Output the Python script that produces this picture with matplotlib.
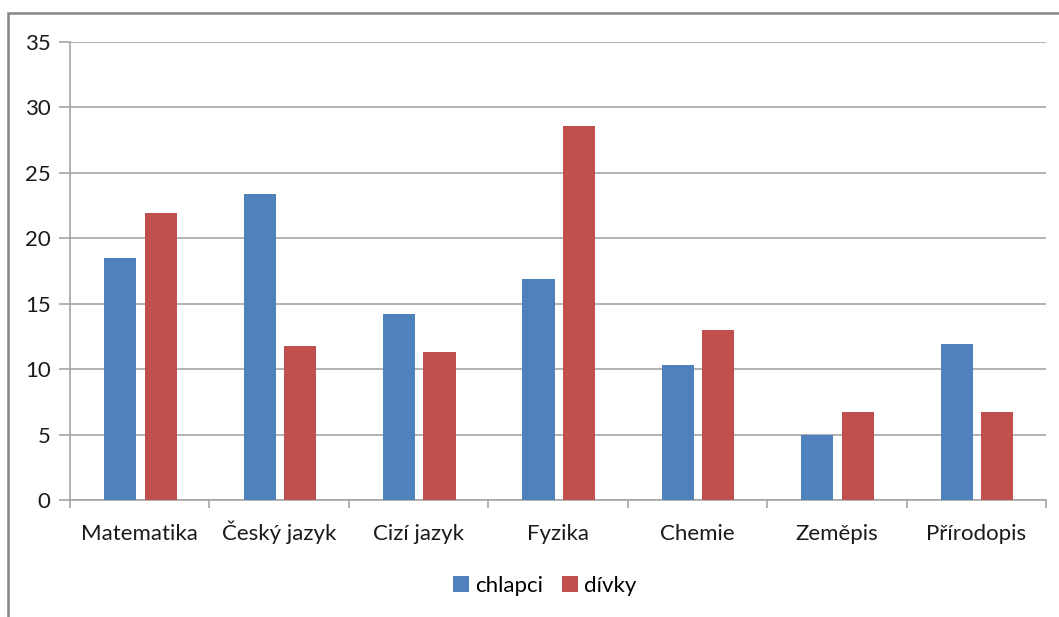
import matplotlib
matplotlib.use("Agg")
import matplotlib.pyplot as plt
import numpy as np
from matplotlib.patches import Rectangle
from matplotlib.transforms import blended_transform_factory

plt.rcParams['font.family'] = ['Lato', 'DejaVu Sans']

# data
predmety = ['Matematika', 'Český jazyk', 'Cizí jazyk', 'Fyzika', 'Chemie', 'Zeměpis', 'Přírodopis']
chlapci = [18.5, 23.4, 14.2, 16.9, 10.3, 5.0, 11.9]
divky = [21.9, 11.8, 11.3, 28.6, 13.0, 6.7, 6.7]

fig = plt.figure(figsize=(10.59, 6.17), dpi=100)
ax = fig.add_axes([70 / 1059, 117 / 617, 976 / 1059, 458 / 617])

# outer frame of the chart area
fig.patches.append(Rectangle((8 / 1059, -0.1), 1.2, (617 - 13) / 617 + 0.1,
                             transform=fig.transFigure, fill=False,
                             edgecolor='#868686', linewidth=1.8))

x = np.arange(len(predmety))
w = 0.23
ax.bar(x - 0.14, chlapci, w, color='#4f81bd', label='chlapci', zorder=3)
ax.bar(x + 0.15, divky, w, color='#c0504d', label='dívky', zorder=3)

ax.set_xlim(-0.5, len(predmety) - 0.5)
ax.set_ylim(0, 35)
ax.set_yticks(range(0, 36, 5))
ax.grid(axis='y', color='#a6a6a6', linewidth=1.2, zorder=0)

ax.set_xticks(np.arange(-0.5, len(predmety), 1))
ax.set_xticklabels([])
# category labels on a common baseline
tr = blended_transform_factory(ax.transData, fig.transFigure)
for xi, name in zip(x, predmety):
    ax.text(xi, 1 - 540 / 617, name, transform=tr, ha='center', va='baseline',
            fontsize=16, color='#1a1a1a')
ax.tick_params(axis='x', which='major', length=6, color='#a6a6a6', width=1.2)
ax.tick_params(axis='y', length=8, color='#a6a6a6', width=1.2, pad=6, labelsize=16,
               labelcolor='#1a1a1a')

for s in ['top', 'right']:
    ax.spines[s].set_visible(False)
for s in ['left', 'bottom']:
    ax.spines[s].set_color('#a6a6a6')
    ax.spines[s].set_linewidth(1.2)

fig.legend(loc='center', bbox_to_anchor=(545 / 1059, 1 - 586 / 617), ncol=2, frameon=False,
           fontsize=16, handlelength=0.7, handleheight=0.7, handletextpad=0.3,
           columnspacing=0.85)

fig.savefig('out.png', dpi=100)
